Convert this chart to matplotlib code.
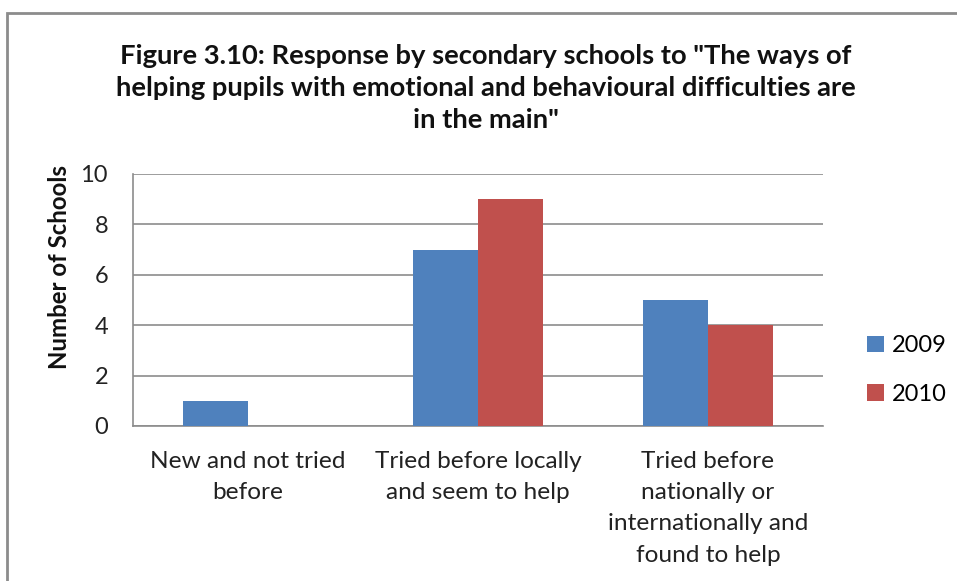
import matplotlib
matplotlib.use('Agg')
import matplotlib.pyplot as plt
import numpy as np
from matplotlib.patches import Rectangle

plt.rcParams['font.family'] = ['Lato', 'DejaVu Sans']

categories = ['New and not tried\nbefore',
              'Tried before locally\nand seem to help',
              'Tried before\nnationally or\ninternationally and\nfound to help']
series = ['2009', '2010']
values_2009 = [1, 7, 5]
values_2010 = [0, 9, 4]
colors = ['#4F81BD', '#C0504D']
yticks = [0, 2, 4, 6, 8, 10]

W, H = 957, 581
fig = plt.figure(figsize=(W / 100, H / 100), dpi=100)

# outer chart border (runs off the right and bottom of the picture)
fig.patches.append(Rectangle((7 / W, -0.1), 1.1, 1 - 13 / H + 0.1,
                             transform=fig.transFigure, fill=False,
                             edgecolor='#8c8c8c', linewidth=2))

ax = fig.add_axes([133 / W, 1 - 426 / H, (823 - 133) / W, (426 - 174) / H])

x = np.arange(len(categories))
bw = 0.283
ax.bar(x - bw / 2, values_2009, bw, color=colors[0], label=series[0], zorder=3)
ax.bar(x + bw / 2, values_2010, bw, color=colors[1], label=series[1], zorder=3)

ax.set_xlim(-0.5, 2.5)
ax.set_ylim(0, 10)
ax.set_yticks(yticks)
ax.yaxis.grid(True, color='#8c8c8c', linewidth=1.2, zorder=0)
ax.set_xticks(x)
ax.set_xticklabels(categories, fontsize=17.6, linespacing=1.6, color='#222222')
ax.tick_params(axis='y', length=0, pad=18, labelsize=17, labelcolor='#222222')
ax.tick_params(axis='x', length=0, pad=18)
for s in ['top', 'right']:
    ax.spines[s].set_visible(False)
for s in ['left', 'bottom']:
    ax.spines[s].set_color('#8c8c8c')
    ax.spines[s].set_linewidth(1.2)

fig.text(486 / W, 1 - 87.5 / H,
         'Figure 3.10: Response by secondary schools to "The ways of\n'
         'helping pupils with emotional and behavioural difficulties are\n'
         'in the main"',
         ha='center', va='center', fontsize=19.7, fontweight='bold',
         linespacing=1.4, color='#111111')

fig.text(60 / W, 1 - 267 / H, 'Number of Schools', rotation=90,
         ha='center', va='center', fontsize=17.3, fontweight='bold', color='#111111')

leg = ax.legend(loc='center left', bbox_to_anchor=(1.033, 0.222), frameon=False,
                fontsize=17, handlelength=0.7, handleheight=0.7,
                handletextpad=0.35, labelspacing=1.15)

fig.savefig('out.png', dpi=100)
